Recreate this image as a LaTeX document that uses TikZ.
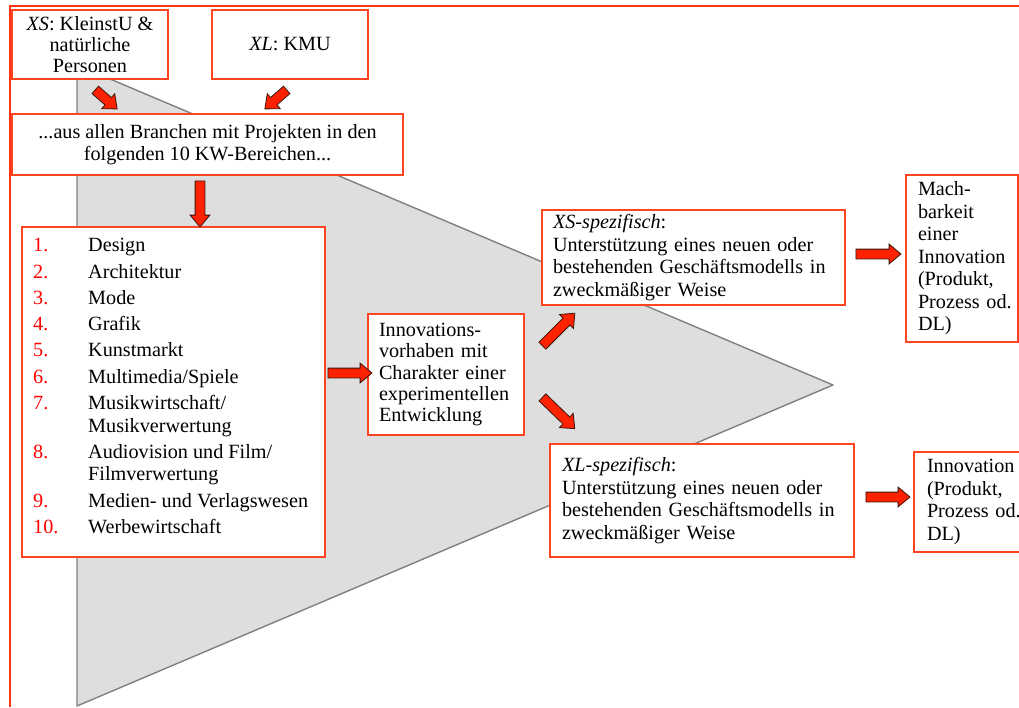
\documentclass[tikz,border=0pt]{standalone}
\usepackage{fontspec}
\setmainfont{Liberation Serif}
\usetikzlibrary{shapes.arrows}
\definecolor{boxred}{RGB}{255,68,34}
\definecolor{framered}{RGB}{255,51,17}
\definecolor{arrred}{RGB}{255,34,0}
\definecolor{arrline}{RGB}{60,20,10}
\definecolor{trifill}{RGB}{222,222,222}
\definecolor{triline}{RGB}{128,128,128}
\definecolor{numred}{RGB}{255,0,0}
\newcommand\fsz{\fontsize{20.2}{22.5}\selectfont}
\newcommand\nr[1]{\textcolor{numred}{#1}}
\tikzset{
  box/.style={draw=boxred, line width=1.2pt, fill=white, inner ysep=0pt, font=\fsz},
  ltext/.style={align=left},
  barrow/.style={single arrow, draw=arrline, fill=arrred, line width=0.8pt,
    text height=9pt, text depth=0pt, minimum width=19pt,
    single arrow head extend=5pt, single arrow tip angle=80,
    inner sep=0pt},
  frame/.style={draw=framered, line width=2.2pt},
  tri/.style={fill=trifill, draw=triline, line width=1.4pt, line join=round}
}
\begin{document}
\begin{tikzpicture}[x=1pt,y=-1pt]
\useasboundingbox (0,0) rectangle (1019,707);
% outer frame (only top and left edges visible)
\draw[frame] (1019,6) -- (10,6) -- (10,707);
% big triangle
\draw[tri] (77,65) -- (833,385) -- (77,706) -- cycle;
% boxes
\node[box, minimum width=156pt, minimum height=69pt, inner xsep=4pt, align=center] (xs) at (90,44.5)
  {\textit{XS}: KleinstU \&\\[-1.5pt]natürliche\\[-1.5pt]Personen};
\node[box, minimum width=156pt, minimum height=69pt, align=center] (xl) at (290,44.5)
  {\textit{XL}: KMU};
\node[box, minimum width=391pt, minimum height=61pt, align=center] (br) at (207.5,144.5)
  {...aus allen Branchen mit Projekten in den\\[-1pt]folgenden 10 KW-Bereichen...};
\node[box, minimum width=303pt, minimum height=330pt] (list) at (173.5,392) {};
\node[anchor=north west, inner sep=0pt, font=\fsz] (items) at (33,235.75)
  {\begin{tabular}{@{}p{55pt}@{}l@{}}
   \nr{1.} & Design\\[3.8pt]
   \nr{2.} & Architektur\\[3.8pt]
   \nr{3.} & Mode\\[3.8pt]
   \nr{4.} & Grafik\\[3.8pt]
   \nr{5.} & Kunstmarkt\\[3.8pt]
   \nr{6.} & Multimedia/Spiele\\[3.8pt]
   \nr{7.} & Musikwirtschaft/\\
           & Musikverwertung\\[3.8pt]
   \nr{8.} & Audiovision und Film/\\
           & Filmverwertung\\[3.8pt]
   \nr{9.} & Medien- und Verlagswesen\\[3.8pt]
   \nr{10.} & Werbewirtschaft
   \end{tabular}};
\node[box, ltext, minimum height=121pt, inner xsep=11pt, text width=134pt] (inn) at (446,374.5)
  {Innovations-\\[-1.2pt]vorhaben mit\\[-1.2pt]Charakter einer\\[-1.2pt]experimentellen\\[-1.2pt]Entwicklung};
\node[box, ltext, minimum height=95pt, inner xsep=11pt, text width=281pt] (xsb) at (693.5,257.5)
  {\textit{XS-spezifisch}:\\Unterstützung eines neuen oder\\bestehenden Geschäftsmodells in\\zweckmäßiger Weise};
\node[box, ltext, minimum height=113pt, inner xsep=12pt, text width=280pt] (xlb) at (702,500.5)
  {\textit{XL-spezifisch}:\\Unterstützung eines neuen oder\\bestehenden Geschäftsmodells in\\zweckmäßiger Weise};
\node[box, ltext, minimum height=167pt, inner xsep=12pt, text width=88pt] (mach) at (962,258.5)
  {Mach-\\barkeit\\einer\\Innovation\\(Produkt,\\Prozess~od.\\DL)};
\node[box, ltext, minimum height=100pt, inner xsep=13pt, text width=82pt] (inn2) at (968,502)
  {Innovation\\(Produkt,\\Prozess~od.\\DL)};
% block arrows
\node[barrow, minimum height=29pt, rotate=-41] (a1) at (104,97.5) {};
\node[barrow, minimum height=29pt, rotate=-139] (a2) at (278,97.5) {};
\node[barrow, minimum height=46pt, rotate=-90] (a3) at (200,201) {};
\node[barrow, minimum height=44pt] (a4) at (347,373) {};
\node[barrow, minimum height=46pt, rotate=45] (a5) at (556.5,331.5) {};
\node[barrow, minimum height=45pt, rotate=-44] (a6) at (556.5,411) {};
\node[barrow, minimum height=45pt] (a7) at (875.5,254) {};
\node[barrow, minimum height=44pt] (a8) at (885,497) {};
\end{tikzpicture}
\end{document}
